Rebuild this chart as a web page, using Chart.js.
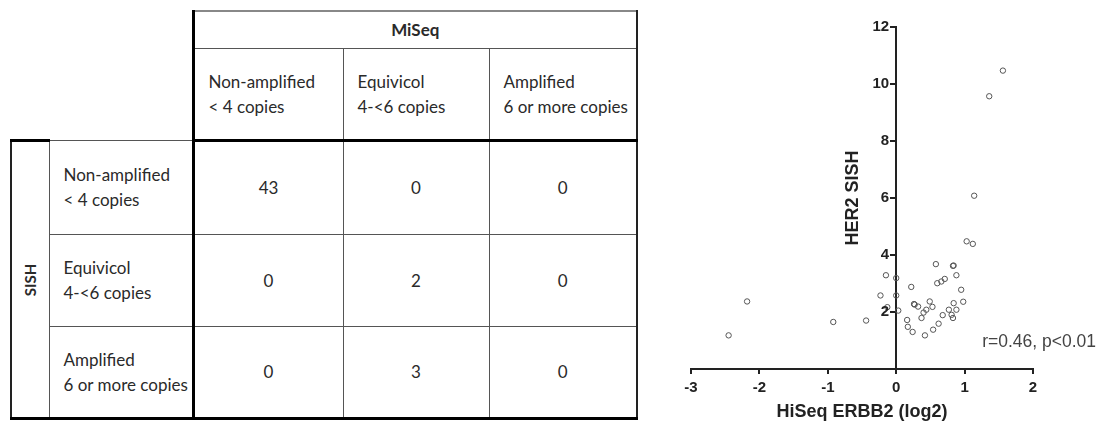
<!DOCTYPE html>
<html>
<head>
<meta charset="utf-8">
<script src="https://cdn.jsdelivr.net/npm/chart.js@4.4.1/dist/chart.umd.min.js"></script>
<style>
  body { margin: 0; background: #fff; width: 1101px; height: 423px; position: relative; overflow: hidden; }
  #tbl { position: absolute; left: 10px; top: 10px; border-collapse: collapse; table-layout: fixed;
         font-family: Lato, sans-serif; font-size: 17px; color: #2a2a2a; }
  #tbl td, #tbl th { padding: 0; border: 1px solid #555; font-weight: normal; }
  #tbl .blank { border: none; }
  #tbl .miseq { font-weight: bold; text-align: center; border-top: 2px solid #888; border-left: 3px solid #000; border-right: 2px solid #222; }
  #tbl .colhead { text-align: left; padding-left: 14px; line-height: 25px; border-bottom: 3px solid #000; }
  #tbl .sish { border-left: 2px solid #222; border-top: 3px solid #000; border-bottom: 3px solid #000; }
  #tbl .sish span { display: inline-block; transform: rotate(-90deg); font-weight: bold; font-size: 15px; }
  #tbl .rowhead { text-align: left; padding-left: 14px; line-height: 25px; border-right: 3px solid #000; }
  #tbl .num { text-align: center; }
  #tbl .lastcol { border-right: 2px solid #222; }
  #tbl .firstcol { border-left: 3px solid #000; }
  #tbl .lastrow { border-bottom: 3px solid #000; }
  #wrap { position: absolute; left: 660px; top: 0; width: 441px; height: 423px; }
</style>
</head>
<body>
<table id="tbl"></table>
<div id="wrap"><canvas id="scatter" width="441" height="423"></canvas></div>
<script>
// contingency table
const colGroup = 'MiSeq';
const rowGroup = 'SISH';
const colLabels = [['Non-amplified', '< 4 copies'], ['Equivicol', '4-<6 copies'], ['Amplified', '6 or more copies']];
const rowLabels = [['Non-amplified', '< 4 copies'], ['Equivicol', '4-<6 copies'], ['Amplified', '6 or more copies']];
const counts = [[43, 0, 0], [0, 2, 0], [0, 3, 0]];

// scatter
const hiseqLog2 = [1.56, 1.36, 1.14, 1.03, 1.12, 0.58, 0.83, 0.84, 0.88, 0.71, 0.66, 0.60, 0.95, 0.98, 0.84, 0.88,
    0.77, 0.81, 0.83, 0.68, 0.62, 0.54, 0.42, 0.24, 0.17, 0.16, 0.22, 0.26, 0.27, 0.32, 0.49, 0.53, 0.44, 0.40,
    0.37, 0.03, 0.00, 0.00, -0.15, -0.23, -0.13, -0.44, -0.92, -2.18, -2.45];
const her2Sish = [10.47, 9.57, 6.08, 4.48, 4.39, 3.68, 3.62, 3.63, 3.29, 3.16, 3.07, 3.01, 2.78, 2.36, 2.31, 2.08,
    2.08, 1.90, 1.79, 1.89, 1.59, 1.38, 1.18, 1.30, 1.48, 1.72, 2.88, 2.28, 2.26, 2.19, 2.37, 2.18, 2.08, 1.98,
    1.79, 2.05, 3.19, 2.58, 3.29, 2.58, 2.17, 1.70, 1.65, 2.37, 1.18];
const xTitle = 'HiSeq ERBB2 (log2)';
const yTitle = 'HER2 SISH';
const statText = 'r=0.46, p<0.01';

const colWidths = [38, 144, 150, 146, 148];
const rowHeights = [37, 92, 94, 92, 92];

const buildTable = () => {
    let html = '<colgroup>' + colWidths.map(w => `<col style="width:${w}px">`).join('') + '</colgroup>';
    html += `<tr style="height:${rowHeights[0]}px"><td class="blank" colspan="2" rowspan="2"></td><th class="miseq" colspan="3">${colGroup}</th></tr>`;
    html += `<tr style="height:${rowHeights[1]}px">` + colLabels.map((c, j) =>
        `<th class="colhead${j === 0 ? ' firstcol' : ''}${j === 2 ? ' lastcol' : ''}">${c.map(s => s.replace('<', '&lt;')).join('<br>')}</th>`
    ).join('') + '</tr>';
    rowLabels.forEach((r, i) => {
        const last = i === rowLabels.length - 1 ? ' lastrow' : '';
        html += `<tr style="height:${rowHeights[i + 2]}px">`;
        if (i === 0) html += `<th class="sish" rowspan="3"><span>${rowGroup}</span></th>`;
        html += `<td class="rowhead${last}">${r.map(s => s.replace('<', '&lt;')).join('<br>')}</td>`;
        html += counts[i].map((v, j) => `<td class="num${last}${j === 2 ? ' lastcol' : ''}">${v}</td>`).join('');
        html += '</tr>';
    });
    document.getElementById('tbl').innerHTML = html;
};
buildTable();

const fontFamily = '"Liberation Sans", Arial, sans-serif';

// y axis sits at x = 0, so its tick labels and title are placed by hand
const labelsPlugin = {
    id: 'labels',
    afterDraw(chart) {
        const { ctx, chartArea, scales: { x, y } } = chart;
        const axisX = x.getPixelForValue(0);
        ctx.save();
        ctx.fillStyle = '#222';
        ctx.font = `bold 15px ${fontFamily}`;
        ctx.textAlign = 'right';
        ctx.textBaseline = 'middle';
        y.ticks.forEach(t => {
            if (t.value === 0) return;
            ctx.fillText(String(t.value), axisX - 7, y.getPixelForValue(t.value));
        });

        ctx.font = `bold 18px ${fontFamily}`;
        ctx.textAlign = 'center';
        ctx.translate(axisX - 43, (chartArea.top + chartArea.bottom) / 2);
        ctx.rotate(-Math.PI / 2);
        ctx.fillText(yTitle, 0, 0);
        ctx.restore();

        ctx.save();
        ctx.fillStyle = '#444';
        ctx.font = `17.5px ${fontFamily}`;
        ctx.textAlign = 'right';
        ctx.textBaseline = 'middle';
        ctx.fillText(statText, chartArea.right + 63, y.getPixelForValue(0.94));
        ctx.restore();
    }
};

const axisFont = { family: fontFamily, size: 15, weight: 'bold' };
const axisGrid = { display: true, drawOnChartArea: false, drawTicks: true, tickLength: 5, color: '#222', lineWidth: 2 };
const axisBorder = { display: true, color: '#222', width: 2 };

new Chart(document.getElementById('scatter'), {
    type: 'scatter',
    data: {
        datasets: [{
            data: hiseqLog2.map((x, i) => ({ x, y: her2Sish[i] })),
            pointRadius: 2.7,
            borderWidth: 1,
            borderColor: '#555',
            backgroundColor: 'rgba(255,255,255,0)'
        }]
    },
    options: {
        responsive: false,
        animation: false,
        devicePixelRatio: 1,
        layout: { padding: { left: 31, right: 68, top: 27, bottom: 0 } },
        plugins: { legend: { display: false }, tooltip: { enabled: false } },
        scales: {
            x: {
                type: 'linear', min: -3, max: 2, position: 'bottom',
                ticks: { stepSize: 1, color: '#222', font: axisFont, padding: 5 },
                grid: axisGrid,
                border: axisBorder,
                title: { display: true, text: xTitle, color: '#222', padding: 0,
                         font: { family: fontFamily, size: 18, weight: 'bold' } },
                afterFit: s => { s.height = 54; }
            },
            y: {
                type: 'linear', min: 0, max: 12, position: { x: 0 },
                ticks: { stepSize: 2, display: false },
                grid: axisGrid,
                border: axisBorder
            }
        }
    },
    plugins: [labelsPlugin]
});
</script>
</body>
</html>
